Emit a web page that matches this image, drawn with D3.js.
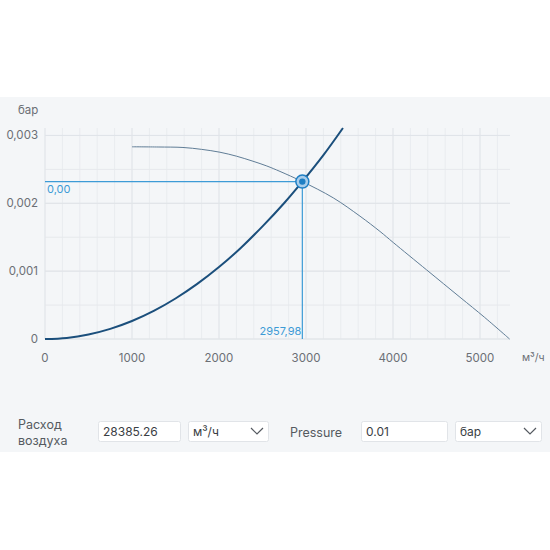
<!DOCTYPE html>
<html><head><meta charset="utf-8">
<script src="https://cdn.jsdelivr.net/npm/d3@7"></script>
<style>
html,body{margin:0;padding:0;background:#fff;}
svg{display:block;font-family:Inter,"Noto Sans",sans-serif;}
</style></head>
<body>
<svg id="c" width="550" height="550"></svg>
<script>
// ---- data ----
const xTicks = [0, 1000, 2000, 3000, 4000, 5000];
const yTicks = [0, 0.001, 0.002, 0.003];
const yTickLabels = ["0", "0,001", "0,002", "0,003"];
const xLabels = ["0", "1000", "2000", "3000", "4000", "5000"];
const fanFlow  = [1000, 1300, 1586, 1800, 2011, 2200, 2391, 2550, 2701, 2958, 3314, 3621, 3850, 4003, 4387, 4770, 5050, 5340];
const fanPress = [0.002833, 0.00283, 0.002823, 0.002795, 0.002753, 0.002695, 0.00262, 0.00255, 0.00247, 0.00232, 0.00208, 0.00181, 0.001586, 0.001422, 0.001018, 0.000616, 0.000322, 0];
const sysFlow  = [0, 250, 500, 750, 1000, 1250, 1500, 1750, 2000, 2250, 2500, 2750, 2958, 3200, 3425];
const sysPress = [0, 0.0000165, 0.000066, 0.000149, 0.000265, 0.000414, 0.000597, 0.000812, 0.00106, 0.001342, 0.00166, 0.002005, 0.00232, 0.00271, 0.00311];
const opFlow = 2957.98, opPress = 0.00232;
const opFlowLabel = "2957,98", opPressLabel = "0,00";
const xUnit = "м³/ч", yUnit = "бар";
const form = {flowLabel:["Расход","воздуха"], flowValue:"28385.26", flowUnit:"м³/ч",
              pressLabel:"Pressure", pressValue:"0.01", pressUnit:"бар"};

const svg = d3.select("#c");
svg.append("rect").attr("x",0).attr("y",97).attr("width",550).attr("height",355).attr("fill","#f4f6f8");

const x = d3.scaleLinear().domain([0, 5345]).range([45, 510]);
const y = d3.scaleLinear().domain([0, 0.00311]).range([339, 128]);

const g = svg.append("g");
// minor grid
g.selectAll(".vx").data(d3.range(0, 5345, 200)).join("line")
  .attr("x1", d=>x(d)).attr("x2", d=>x(d)).attr("y1", y(0)).attr("y2", y(0.00311))
  .attr("stroke", "#e9ecef").attr("stroke-width", 1);
g.selectAll(".hy").data(d3.range(0, 0.0031, 0.0005)).join("line")
  .attr("x1", x(0)).attr("x2", x(5345)).attr("y1", d=>y(d)).attr("y2", d=>y(d))
  .attr("stroke", "#e6e9ec").attr("stroke-width", 1);
// major
g.selectAll(".mx").data(xTicks).join("line")
  .attr("x1", d=>x(d)).attr("x2", d=>x(d)).attr("y1", y(0)).attr("y2", y(0.00311))
  .attr("stroke", "#e3e6ea").attr("stroke-width", 1);
g.selectAll(".my").data(yTicks).join("line")
  .attr("x1", x(0)).attr("x2", x(5345)).attr("y1", d=>y(d)).attr("y2", d=>y(d))
  .attr("stroke", "#e0e4e8").attr("stroke-width", 1);

// tick labels
g.selectAll(".xl").data(xTicks).join("text")
  .attr("x", d=>x(d)).attr("y", 362).attr("text-anchor","middle")
  .attr("font-size", 11.5).attr("fill", "#6b6f75").text((d,i)=>xLabels[i]);
g.selectAll(".yl").data(yTicks).join("text")
  .attr("x", 38).attr("y", d=>y(d)+4).attr("text-anchor","end")
  .attr("font-size", 11.5).attr("fill", "#6b6f75").text((d,i)=>yTickLabels[i]);
svg.append("text").attr("x",18).attr("y",114).attr("font-size",11.5).attr("fill","#6b6f75").text(yUnit);
svg.append("text").attr("x",522).attr("y",361).attr("font-size",10.5).attr("fill","#6b6f75").text(xUnit);

// operating lines
g.append("line").attr("x1", x(0)).attr("x2", x(opFlow)).attr("y1", y(opPress)).attr("y2", y(opPress))
  .attr("stroke", "#3d9bd6").attr("stroke-width", 1.2);
g.append("line").attr("x1", x(opFlow)).attr("x2", x(opFlow)).attr("y1", y(opPress)).attr("y2", y(0))
  .attr("stroke", "#3d9bd6").attr("stroke-width", 1.2);
g.append("text").attr("x", x(0)+2).attr("y", y(opPress)+11).attr("font-size", 11).attr("fill","#3d9bd6").text(opPressLabel);
g.append("text").attr("x", x(opFlow)-1).attr("y", y(0)-4).attr("text-anchor","end").attr("font-size", 11).attr("fill","#3d9bd6").text(opFlowLabel);

// fan curve
const fan = fanFlow.map((f,i)=>[f, fanPress[i]]);
g.append("path").datum(fan)
  .attr("d", d3.line().x(d=>x(d[0])).y(d=>y(d[1])).curve(d3.curveCatmullRom.alpha(0.5)))
  .attr("fill","none").attr("stroke","#607d96").attr("stroke-width",1);
// system curve
const sys = sysFlow.map((f,i)=>[f, sysPress[i]]);
g.append("path").datum(sys)
  .attr("d", d3.line().x(d=>x(d[0])).y(d=>y(d[1])).curve(d3.curveCatmullRom.alpha(0.5)))
  .attr("fill","none").attr("stroke","#1b4f7c").attr("stroke-width",2);

// operating point
g.append("circle").attr("cx", x(opFlow)).attr("cy", y(opPress)).attr("r", 6.5)
  .attr("fill","#a9cdea").attr("stroke","#1f7fc4").attr("stroke-width",1.5);
g.append("circle").attr("cx", x(opFlow)).attr("cy", y(opPress)).attr("r", 3.2)
  .attr("fill","#1f7fc4");

// form
const f = svg.append("g").attr("font-size", 12.5);
f.append("text").attr("x",18).attr("y",429).attr("fill","#555a60").text(form.flowLabel[0]);
f.append("text").attr("x",18).attr("y",445).attr("fill","#555a60").text(form.flowLabel[1]);
function box(x0, x1, txt, chevron){
  f.append("rect").attr("x",x0+0.5).attr("y",421.5).attr("width",x1-x0).attr("height",20).attr("rx",2)
    .attr("fill","#fff").attr("stroke","#e1e4e8");
  f.append("text").attr("x",x0+5).attr("y",436).attr("fill","#3a3e44").attr("font-size",12).text(txt);
  if(chevron){
    const cx = x1-11;
    f.append("path").attr("d",`M${cx-6},428 L${cx},434 L${cx+6},428`).attr("fill","none")
      .attr("stroke","#555a60").attr("stroke-width",1.2);
  }
}
box(98,180,form.flowValue,false);
box(188,268,form.flowUnit,true);
f.append("text").attr("x",290).attr("y",437).attr("fill","#555a60").text(form.pressLabel);
box(361,447,form.pressValue,false);
box(455,541,form.pressUnit,true);
</script>
</body></html>
